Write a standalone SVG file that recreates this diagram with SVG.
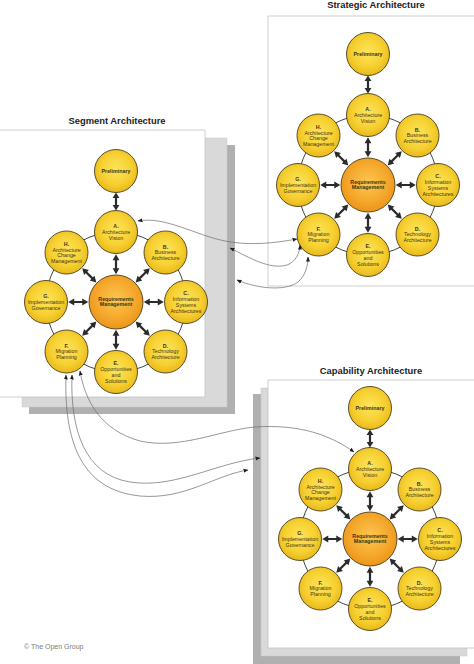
<svg xmlns="http://www.w3.org/2000/svg" width="474" height="664" viewBox="0 0 474 664">
<style>
.title{font-family:"Liberation Sans",Arial,sans-serif;font-weight:bold;font-size:9.4px;fill:#222;text-anchor:middle}
.nt{font-family:"Liberation Sans",Arial,sans-serif;font-size:5.3px;fill:#3e3412;text-anchor:middle}
.b{font-weight:bold}
.node circle{fill:url(#gy);stroke:#4a3d18;stroke-width:0.9}
.node.core circle{fill:url(#go)}
.ring{fill:none;stroke:#2e2e2e;stroke-width:0.9}
.panel{fill:#fff;stroke:#c4c4c4;stroke-width:0.8}
.sh1{fill:#d9d9d9;stroke:#c8c8c8;stroke-width:0.5}
.sh2{fill:#b0b0b0}
.arr{fill:#2b2b2b}
.cv{fill:none;stroke:#6b6b6b;stroke-width:0.7;marker-start:url(#ah);marker-end:url(#ah)}
.copy{font-family:"Liberation Sans",Arial,sans-serif;font-size:7px;fill:#7a7a7a}
</style>
<defs>
<radialGradient id="gy" cx="50%" cy="45%" r="55%">
<stop offset="0" stop-color="#fde45c"/>
<stop offset="0.65" stop-color="#f6d030"/>
<stop offset="1" stop-color="#e9b81c"/>
</radialGradient>
<radialGradient id="go" cx="50%" cy="45%" r="55%">
<stop offset="0" stop-color="#fcc650"/>
<stop offset="0.65" stop-color="#f5a82c"/>
<stop offset="1" stop-color="#eb9519"/>
</radialGradient>
<polygon id="dbl" class="arr" points="-10,0 -4,-3.4 -4,-1.1 4,-1.1 4,-3.4 10,0 4,3.4 4,1.1 -4,1.1 -4,3.4"/>
<g id="arrows">
<use href="#dbl" transform="translate(0,-100.5) rotate(90) scale(0.9,1)"/>
<use href="#dbl" transform="rotate(-90) translate(37.75,0)"/>
<use href="#dbl" transform="rotate(-45) translate(37.75,0)"/>
<use href="#dbl" transform="rotate(0) translate(37.75,0)"/>
<use href="#dbl" transform="rotate(45) translate(37.75,0)"/>
<use href="#dbl" transform="rotate(90) translate(37.75,0)"/>
<use href="#dbl" transform="rotate(135) translate(37.75,0)"/>
<use href="#dbl" transform="rotate(180) translate(37.75,0)"/>
<use href="#dbl" transform="rotate(-135) translate(37.75,0)"/>
</g>
<marker id="ah" viewBox="0 0 10 10" refX="9" refY="5" markerWidth="5" markerHeight="5" markerUnits="userSpaceOnUse" orient="auto-start-reverse">
<path d="M0,1 L10,5 L0,9 z" fill="#1e1e1e"/>
</marker>
</defs>

<!-- Panels -->
<g id="panels">
<rect class="panel" x="268" y="16" width="210" height="270"/>
<rect class="sh2" x="29" y="145" width="206" height="269"/>
<rect class="sh1" x="22" y="138" width="205" height="269"/>
<rect class="panel" x="-1" y="130" width="206" height="267"/>
<rect class="sh2" x="253" y="394" width="207" height="272"/>
<rect class="sh1" x="261" y="388" width="206" height="268"/>
<rect class="panel" x="268" y="380" width="210" height="268"/>
</g>

<text class="title" x="376" y="7.5">Strategic Architecture</text>
<text class="title" x="117" y="123.5">Segment Architecture</text>
<text class="title" x="371" y="373.5">Capability Architecture</text>

<!-- Strategic cycle -->
<g id="strategic" transform="translate(368,185)">
<circle class="ring" r="70"/>
<use href="#arrows"/>
<g id="st-prelim" class="node" transform="translate(0,-131)"><circle r="21.5"/><text class="nt b" y="1.9">Preliminary</text></g>
<g id="st-a" class="node" transform="translate(0,-70)"><circle r="21.5"/><text class="nt"><tspan class="b" x="0" y="-4">A.</tspan><tspan x="0" y="1.9">Architecture</tspan><tspan x="0" y="7.8">Vision</tspan></text></g>
<g id="st-b" class="node" transform="translate(49.5,-49.5)"><circle r="21.5"/><text class="nt"><tspan class="b" x="0" y="-4">B.</tspan><tspan x="0" y="1.9">Business</tspan><tspan x="0" y="7.8">Architecture</tspan></text></g>
<g id="st-c" class="node" transform="translate(70,0)"><circle r="21.5"/><text class="nt"><tspan class="b" x="0" y="-6.9">C.</tspan><tspan x="0" y="-1">Information</tspan><tspan x="0" y="4.9">Systems</tspan><tspan x="0" y="10.8">Architectures</tspan></text></g>
<g id="st-d" class="node" transform="translate(49.5,49.5)"><circle r="21.5"/><text class="nt"><tspan class="b" x="0" y="-4">D.</tspan><tspan x="0" y="1.9">Technology</tspan><tspan x="0" y="7.8">Architecture</tspan></text></g>
<g id="st-e" class="node" transform="translate(0,70)"><circle r="21.5"/><text class="nt"><tspan class="b" x="0" y="-6.9">E.</tspan><tspan x="0" y="-1">Opportunities</tspan><tspan x="0" y="4.9">and</tspan><tspan x="0" y="10.8">Solutions</tspan></text></g>
<g id="st-f" class="node" transform="translate(-49.5,49.5)"><circle r="21.5"/><text class="nt"><tspan class="b" x="0" y="-4">F.</tspan><tspan x="0" y="1.9">Migration</tspan><tspan x="0" y="7.8">Planning</tspan></text></g>
<g id="st-g" class="node" transform="translate(-70,0)"><circle r="21.5"/><text class="nt"><tspan class="b" x="0" y="-4">G.</tspan><tspan x="0" y="1.9">Implementation</tspan><tspan x="0" y="7.8">Governance</tspan></text></g>
<g id="st-h" class="node" transform="translate(-49.5,-49.5)"><circle r="21.5"/><text class="nt"><tspan class="b" x="0" y="-6.9">H.</tspan><tspan x="0" y="-1">Architecture</tspan><tspan x="0" y="4.9">Change</tspan><tspan x="0" y="10.8">Management</tspan></text></g>
<g id="st-rm" class="node core"><circle r="27"/><text class="nt b"><tspan x="0" y="-1.4">Requirements</tspan><tspan x="0" y="4.2">Management</tspan></text></g>
</g>

<!-- Segment cycle -->
<g id="segment" transform="translate(116,302)">
<circle class="ring" r="70"/>
<use href="#arrows"/>
<g id="sg-prelim" class="node" transform="translate(0,-131)"><circle r="21.5"/><text class="nt b" y="1.9">Preliminary</text></g>
<g id="sg-a" class="node" transform="translate(0,-70)"><circle r="21.5"/><text class="nt"><tspan class="b" x="0" y="-4">A.</tspan><tspan x="0" y="1.9">Architecture</tspan><tspan x="0" y="7.8">Vision</tspan></text></g>
<g id="sg-b" class="node" transform="translate(49.5,-49.5)"><circle r="21.5"/><text class="nt"><tspan class="b" x="0" y="-4">B.</tspan><tspan x="0" y="1.9">Business</tspan><tspan x="0" y="7.8">Architecture</tspan></text></g>
<g id="sg-c" class="node" transform="translate(70,0)"><circle r="21.5"/><text class="nt"><tspan class="b" x="0" y="-6.9">C.</tspan><tspan x="0" y="-1">Information</tspan><tspan x="0" y="4.9">Systems</tspan><tspan x="0" y="10.8">Architectures</tspan></text></g>
<g id="sg-d" class="node" transform="translate(49.5,49.5)"><circle r="21.5"/><text class="nt"><tspan class="b" x="0" y="-4">D.</tspan><tspan x="0" y="1.9">Technology</tspan><tspan x="0" y="7.8">Architecture</tspan></text></g>
<g id="sg-e" class="node" transform="translate(0,70)"><circle r="21.5"/><text class="nt"><tspan class="b" x="0" y="-6.9">E.</tspan><tspan x="0" y="-1">Opportunities</tspan><tspan x="0" y="4.9">and</tspan><tspan x="0" y="10.8">Solutions</tspan></text></g>
<g id="sg-f" class="node" transform="translate(-49.5,49.5)"><circle r="21.5"/><text class="nt"><tspan class="b" x="0" y="-4">F.</tspan><tspan x="0" y="1.9">Migration</tspan><tspan x="0" y="7.8">Planning</tspan></text></g>
<g id="sg-g" class="node" transform="translate(-70,0)"><circle r="21.5"/><text class="nt"><tspan class="b" x="0" y="-4">G.</tspan><tspan x="0" y="1.9">Implementation</tspan><tspan x="0" y="7.8">Governance</tspan></text></g>
<g id="sg-h" class="node" transform="translate(-49.5,-49.5)"><circle r="21.5"/><text class="nt"><tspan class="b" x="0" y="-6.9">H.</tspan><tspan x="0" y="-1">Architecture</tspan><tspan x="0" y="4.9">Change</tspan><tspan x="0" y="10.8">Management</tspan></text></g>
<g id="sg-rm" class="node core"><circle r="27"/><text class="nt b"><tspan x="0" y="-1.4">Requirements</tspan><tspan x="0" y="4.2">Management</tspan></text></g>
</g>

<!-- Capability cycle -->
<g id="capability" transform="translate(370,539)">
<circle class="ring" r="70"/>
<use href="#arrows"/>
<g id="cp-prelim" class="node" transform="translate(0,-131)"><circle r="21.5"/><text class="nt b" y="1.9">Preliminary</text></g>
<g id="cp-a" class="node" transform="translate(0,-70)"><circle r="21.5"/><text class="nt"><tspan class="b" x="0" y="-4">A.</tspan><tspan x="0" y="1.9">Architecture</tspan><tspan x="0" y="7.8">Vision</tspan></text></g>
<g id="cp-b" class="node" transform="translate(49.5,-49.5)"><circle r="21.5"/><text class="nt"><tspan class="b" x="0" y="-4">B.</tspan><tspan x="0" y="1.9">Business</tspan><tspan x="0" y="7.8">Architecture</tspan></text></g>
<g id="cp-c" class="node" transform="translate(70,0)"><circle r="21.5"/><text class="nt"><tspan class="b" x="0" y="-6.9">C.</tspan><tspan x="0" y="-1">Information</tspan><tspan x="0" y="4.9">Systems</tspan><tspan x="0" y="10.8">Architectures</tspan></text></g>
<g id="cp-d" class="node" transform="translate(49.5,49.5)"><circle r="21.5"/><text class="nt"><tspan class="b" x="0" y="-4">D.</tspan><tspan x="0" y="1.9">Technology</tspan><tspan x="0" y="7.8">Architecture</tspan></text></g>
<g id="cp-e" class="node" transform="translate(0,70)"><circle r="21.5"/><text class="nt"><tspan class="b" x="0" y="-6.9">E.</tspan><tspan x="0" y="-1">Opportunities</tspan><tspan x="0" y="4.9">and</tspan><tspan x="0" y="10.8">Solutions</tspan></text></g>
<g id="cp-f" class="node" transform="translate(-49.5,49.5)"><circle r="21.5"/><text class="nt"><tspan class="b" x="0" y="-4">F.</tspan><tspan x="0" y="1.9">Migration</tspan><tspan x="0" y="7.8">Planning</tspan></text></g>
<g id="cp-g" class="node" transform="translate(-70,0)"><circle r="21.5"/><text class="nt"><tspan class="b" x="0" y="-4">G.</tspan><tspan x="0" y="1.9">Implementation</tspan><tspan x="0" y="7.8">Governance</tspan></text></g>
<g id="cp-h" class="node" transform="translate(-49.5,-49.5)"><circle r="21.5"/><text class="nt"><tspan class="b" x="0" y="-6.9">H.</tspan><tspan x="0" y="-1">Architecture</tspan><tspan x="0" y="4.9">Change</tspan><tspan x="0" y="10.8">Management</tspan></text></g>
<g id="cp-rm" class="node core"><circle r="27"/><text class="nt b"><tspan x="0" y="-1.4">Requirements</tspan><tspan x="0" y="4.2">Management</tspan></text></g>
</g>

<!-- Connectors between architectures -->
<g id="connectors">
<path class="cv" d="M138,221 C165,216 195,235 225,241 C250,246 275,243 297,239"/>
<path class="cv" d="M230,248 C250,258 270,270 287,265 C296,262 300,252 300,245"/>
<path class="cv" d="M237,280 C255,288 285,292 298,282 C306,275 308,265 308,257"/>
<path class="cv" d="M80,371 C85,400 100,430 140,441 C180,450 220,430 255,427 C300,424 330,435 354,452"/>
<path class="cv" d="M72,375 C70,430 85,475 130,482 C175,489 215,463 260,458"/>
<path class="cv" d="M66,375 C64,440 80,490 140,496 C185,500 215,475 248,470"/>
</g>

<text class="copy" x="24" y="649">© The Open Group</text>
</svg>
